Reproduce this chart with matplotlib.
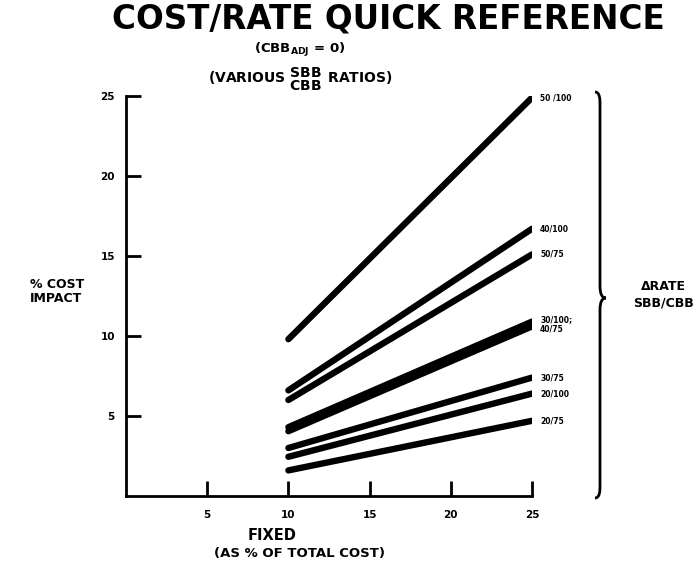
import matplotlib
matplotlib.use("Agg")
import matplotlib.pyplot as plt
from matplotlib.path import Path
from matplotlib.patches import PathPatch

# ── data ─────────────────────────────────────────────────────────
ratio_labels = ["50 /100", "40/100", "50/75", "30/100;\n40/75", "", "30/75", "20/100", "20/75"]
x_start = 10
x_end = 25
y_at_start = [9.8, 6.6, 6.0, 4.3, 4.05, 3.0, 2.45, 1.6]
y_at_end = [24.9, 16.7, 15.1, 10.9, 10.6, 7.4, 6.4, 4.7]
x_ticks = [5, 10, 15, 20, 25]
y_ticks = [5, 10, 15, 20, 25]

W, H = 699, 569
fig = plt.figure(figsize=(W / 100, H / 100), dpi=100)
plt.rcParams["font.family"] = ["DejaVu Sans"]
plt.rcParams["mathtext.fontset"] = "dejavusans"


def fx(px):
    return px / W


def fy(py):
    return 1 - py / H


ax = fig.add_axes([fx(126), fy(496), fx(532) - fx(126), fy(96) - fy(496)])

for y0, y1 in zip(y_at_start, y_at_end):
    ax.plot([x_start, x_end], [y0, y1], color="black", lw=4.6,
            solid_capstyle="round")

ax.set_xlim(0, 25)
ax.set_ylim(0, 25)
ax.set_xticks(x_ticks)
ax.set_yticks(y_ticks)
ax.set_xticklabels([str(t) for t in x_ticks], fontsize=7.5, fontweight="heavy")
ax.set_yticklabels([str(t) for t in y_ticks], fontsize=7.5, fontweight="heavy")
ax.tick_params(direction="in", length=11, width=2, pad=8)
ax.tick_params(axis="x", pad=10)
for side in ("top", "right"):
    ax.spines[side].set_visible(False)
for side in ("left", "bottom"):
    ax.spines[side].set_linewidth(2)

# line-end labels
for i, (lab, y1) in enumerate(zip(ratio_labels, y_at_end)):
    if not lab:
        continue
    yy = y1
    if "\n" in lab:
        yy = (y1 + y_at_end[i + 1]) / 2
    ax.text(25.5, yy, lab, fontsize=5.5, fontweight="heavy", ha="left",
            va="center", linespacing=1.0, clip_on=False)

# titles
fig.text(fx(388), fy(19), "COST/RATE QUICK REFERENCE", fontsize=23.5,
         fontweight="heavy", ha="center", va="center")
fig.text(fx(300), fy(50), r"(CBB$_{\mathbf{ADJ}}$ = 0)", fontsize=9.5,
         fontweight="heavy", ha="center", va="center")
fig.text(fx(300), fy(79),
         r"(VARIOUS $\genfrac{}{}{0}{0}{\mathbf{SBB}}{\mathbf{CBB}}$ RATIOS)",
         fontsize=10, fontweight="heavy", ha="center", va="center")

fig.text(fx(30), fy(292), "% COST\nIMPACT", fontsize=9, fontweight="heavy",
         ha="left", va="center", linespacing=1.1)
fig.text(fx(248), fy(535), "FIXED", fontsize=10.5, fontweight="heavy",
         ha="left", va="center")
fig.text(fx(300), fy(554), "(AS % OF TOTAL COST)", fontsize=9.5,
         fontweight="heavy", ha="center", va="center")
fig.text(fx(663), fy(295), "\u0394RATE\nSBB/CBB", fontsize=9,
         fontweight="heavy", ha="center", va="center", linespacing=1.3)

# curly brace on the right
bx, top, mid, bot = 600, 92, 298, 498
verts = [
    (bx - 5, top), (bx, top), (bx, top + 8), (bx, top + 12),
    (bx, mid - 12),
    (bx, mid - 4), (bx + 2, mid), (bx + 6, mid),
    (bx + 2, mid), (bx, mid + 4), (bx, mid + 12),
    (bx, bot - 12),
    (bx, bot - 8), (bx, bot), (bx - 5, bot),
]
codes = [Path.MOVETO, Path.CURVE4, Path.CURVE4, Path.CURVE4,
         Path.LINETO,
         Path.CURVE4, Path.CURVE4, Path.CURVE4,
         Path.CURVE4, Path.CURVE4, Path.CURVE4,
         Path.LINETO,
         Path.CURVE4, Path.CURVE4, Path.CURVE4]
brace = Path([(fx(a), fy(b)) for a, b in verts], codes)
fig.add_artist(PathPatch(brace, transform=fig.transFigure, fill=False,
                         lw=2, edgecolor="black"))

fig.savefig("out.png", dpi=100)
